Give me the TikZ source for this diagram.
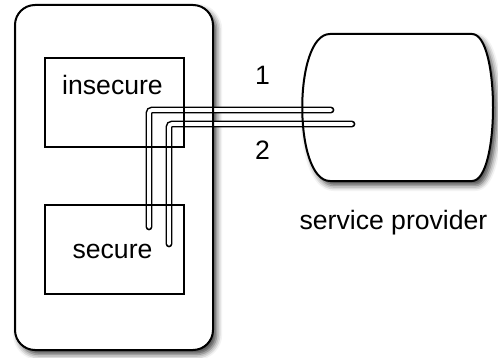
\documentclass[tikz,border=0pt]{standalone}
\usepackage{fontspec}
\setmainfont{Liberation Sans}
\usetikzlibrary{shadows.blur}

\tikzset{
  box/.style={draw,line width=0.75pt,minimum width=69.5pt,minimum height=44.5pt,inner sep=0pt},
  lbl/.style={anchor=base,inner sep=0pt,font=\fontsize{13.3}{16}\selectfont},
  pipe/.style={line width=0.75pt,double=white,double distance=1.9pt,line cap=round,rounded corners=1.5pt},
  shade/.style={fill=white,blur shadow={shadow xshift=1.8pt,shadow yshift=-2.2pt,shadow blur radius=2.8pt,shadow opacity=75}}
}
% device outline and provider outline
\newcommand{\devpath}{(15,5) rectangle (213,350)}
\newcommand{\provpath}{(330,34) -- (472,34) .. controls (500,34) and (500,181) .. (472,181) -- (330,181) .. controls (293,181) and (293,34) .. (330,34) -- cycle}

\begin{document}
\begin{tikzpicture}[x=0.5pt,y=-0.5pt]
  \useasboundingbox (0,0) rectangle (498,358);
  % filled backgrounds with shadow
  \path[shade,rounded corners=10pt] \devpath;
  \path[shade] \provpath;
  % channel endpoints
  \coordinate (s1) at (149,227);
  \coordinate (s2) at (169,244);
  \coordinate (p1) at (331,110);
  \coordinate (p2) at (352,124);
  \draw[pipe] (s1) |- (p1);
  \draw[pipe] (s2) |- (p2);
  % outlines on top
  \draw[line width=1pt,rounded corners=10pt] \devpath;
  \draw[line width=1pt] \provpath;
  \node[box] (insec) at (114.5,102.5) {};
  \node[box] (sec) at (114.5,249.5) {};
  \node[lbl] (tinsec) at (112.5,95) {insecure};
  \node[lbl] (tsec) at (112.5,258) {secure};
  \node[lbl] (tprov) at (393.5,229) {service provider};
  \node[lbl] (n1) at (262.5,85) {1};
  \node[lbl] (n2) at (262.5,160) {2};
\end{tikzpicture}
\end{document}
